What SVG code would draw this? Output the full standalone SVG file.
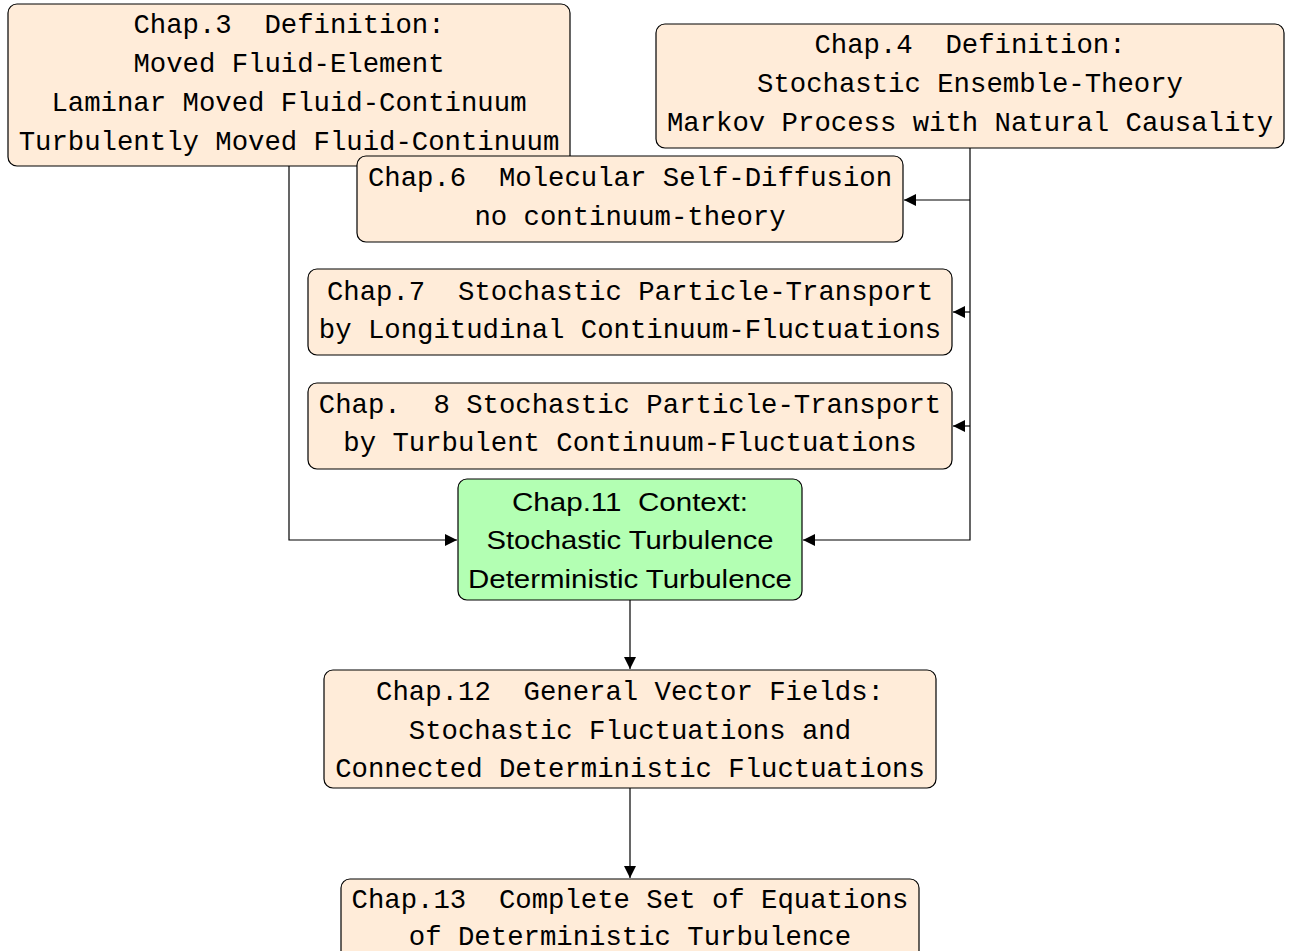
<svg xmlns="http://www.w3.org/2000/svg" width="1294" height="951" viewBox="0 0 1294 951">
<style>
.box{fill:#ffecd9;stroke:#000;stroke-width:1.2}
.gbox{fill:#b3ffb3;stroke:#000;stroke-width:1.2}
.tt{font-family:"Liberation Mono","DejaVu Sans Mono",monospace;font-size:27.3px;text-anchor:middle;fill:#000;white-space:pre}
.sf{font-family:"Liberation Sans","DejaVu Sans",sans-serif;font-size:26px;text-anchor:middle;fill:#000;white-space:pre}
.edge{fill:none;stroke:#000;stroke-width:1.2}
</style>
<defs>
<marker id="arr" viewBox="0 0 12 12" refX="12" refY="6" markerWidth="12" markerHeight="12" markerUnits="userSpaceOnUse" orient="auto">
<path d="M0,0 L12,6 L0,12 Z" fill="#000"/>
</marker>
</defs>
<g id="connectors">
<path class="edge" d="M289,166 V540 H457" marker-end="url(#arr)"/>
<path class="edge" d="M970,148 V540 H803" marker-end="url(#arr)"/>
<path class="edge" d="M970,200 H904" marker-end="url(#arr)"/>
<path class="edge" d="M970,312 H953" marker-end="url(#arr)"/>
<path class="edge" d="M970,426 H953" marker-end="url(#arr)"/>
<path class="edge" d="M630,600 V669" marker-end="url(#arr)"/>
<path class="edge" d="M630,788 V878" marker-end="url(#arr)"/>
</g>
<g id="chap3">
<rect class="box" x="8" y="4" width="562" height="162" rx="9"/>
<text class="tt" x="289" y="33">Chap.3  Definition:</text>
<text class="tt" x="289" y="72">Moved Fluid-Element</text>
<text class="tt" x="289" y="111">Laminar Moved Fluid-Continuum</text>
<text class="tt" x="289" y="150">Turbulently Moved Fluid-Continuum</text>
</g>
<g id="chap4">
<rect class="box" x="656" y="24" width="628" height="124" rx="9"/>
<text class="tt" x="970" y="53">Chap.4  Definition:</text>
<text class="tt" x="970" y="92">Stochastic Ensemble-Theory</text>
<text class="tt" x="970" y="131">Markov Process with Natural Causality</text>
</g>
<g id="chap6">
<rect class="box" x="357" y="156" width="546" height="86" rx="9"/>
<text class="tt" x="630" y="186">Chap.6  Molecular Self-Diffusion</text>
<text class="tt" x="630" y="225">no continuum-theory</text>
</g>
<g id="chap7">
<rect class="box" x="308" y="269" width="644" height="86" rx="9"/>
<text class="tt" x="630" y="300">Chap.7  Stochastic Particle-Transport</text>
<text class="tt" x="630" y="338">by Longitudinal Continuum-Fluctuations</text>
</g>
<g id="chap8">
<rect class="box" x="308" y="383" width="644" height="86" rx="9"/>
<text class="tt" x="630" y="413">Chap.  8 Stochastic Particle-Transport</text>
<text class="tt" x="630" y="451">by Turbulent Continuum-Fluctuations</text>
</g>
<g id="chap11">
<rect class="gbox" x="458" y="479" width="344" height="121" rx="9"/>
<text class="sf" x="630" y="511" textLength="236" lengthAdjust="spacingAndGlyphs">Chap.11  Context:</text>
<text class="sf" x="630" y="549" textLength="287" lengthAdjust="spacingAndGlyphs">Stochastic Turbulence</text>
<text class="sf" x="630" y="588" textLength="324" lengthAdjust="spacingAndGlyphs">Deterministic Turbulence</text>
</g>
<g id="chap12">
<rect class="box" x="324" y="670" width="612" height="118" rx="9"/>
<text class="tt" x="630" y="700">Chap.12  General Vector Fields:</text>
<text class="tt" x="630" y="739">Stochastic Fluctuations and</text>
<text class="tt" x="630" y="777">Connected Deterministic Fluctuations</text>
</g>
<g id="chap13">
<rect class="box" x="341" y="879" width="578" height="90" rx="9"/>
<text class="tt" x="630" y="908">Chap.13  Complete Set of Equations</text>
<text class="tt" x="630" y="945">of Deterministic Turbulence</text>
</g>
</svg>
